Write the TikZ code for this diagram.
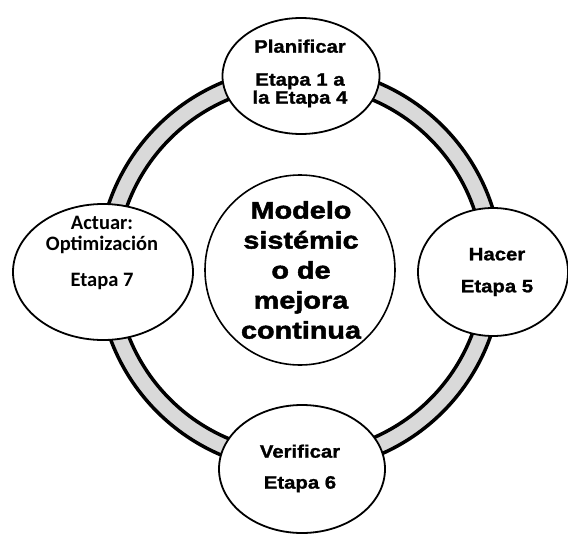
\documentclass[tikz,border=0pt]{standalone}
\usepackage{fontspec}
\usetikzlibrary{shapes.geometric}
% Stage labels: wide heavy sans; the hub label a little wider still
\newfontfamily\stagefont{Liberation Sans}[FakeStretch=1.13,FakeBold=1.2]
\newfontfamily\hubfont{Liberation Sans}[FakeStretch=1.2,FakeBold=2]
\newfontfamily\actfont{Carlito}
\definecolor{ringgray}{RGB}{217,217,217}
\begin{document}
\begin{tikzpicture}[x=1pt,y=-1pt,
  stage/.style={ellipse, draw=black, line width=1.8pt, fill=white, inner sep=0pt},
  hubdisc/.style={circle, draw=black, line width=1.6pt, fill=white, inner sep=0pt, minimum size=190pt},
  stagetext/.style={align=center, inner sep=0pt, text=black,
    font=\stagefont\bfseries\fontsize{18pt}{18pt}\selectfont},
  acttext/.style={align=center, inner sep=0pt, text=black,
    font=\actfont\bfseries\fontsize{20.5pt}{21pt}\selectfont},
  hubtext/.style={align=center, inner sep=0pt, text=black,
    font=\hubfont\bfseries\fontsize{24pt}{30pt}\selectfont},
  cycle ring/.style={draw=black, line width=3.5pt, fill=ringgray, even odd rule}
]
\useasboundingbox (0,0) rectangle (568,535);

% the PDCA cycle: a grey band with black rims
\coordinate (hub) at (300,269);
\path[cycle ring] (hub) circle[radius=202pt] (hub) circle[radius=184pt];

% stage bubbles sitting on the band
\node[stage, minimum width=157pt, minimum height=116pt] (plan) at (301,76) {};
\node[stage, minimum width=150pt, minimum height=128pt] (do) at (493,272) {};
\node[stage, minimum width=166pt, minimum height=128pt] (check) at (302,469) {};
\node[stage, minimum width=180pt, minimum height=136pt] (act) at (103,272) {};

% central disc
\node[hubdisc] (model) at (300,270) {};

% labels
\node[stagetext] (plantext) at (300,73.5) {Planificar\\[15pt]Etapa 1 a\\la Etapa 4};
\node[stagetext] (dotext) at (497,272) {Hacer\\[14pt]Etapa 5};
\node[stagetext] (checktext) at (300,468.5) {Verificar\\[13pt]Etapa 6};
\node[acttext] (acttxt) at (102,253) {Actuar:\\Optimización\\[15pt]Etapa 7};
\node[hubtext] (modeltext) at (301,270) {Modelo\\sistémic\\o de\\mejora\\continua};
\end{tikzpicture}
\end{document}
